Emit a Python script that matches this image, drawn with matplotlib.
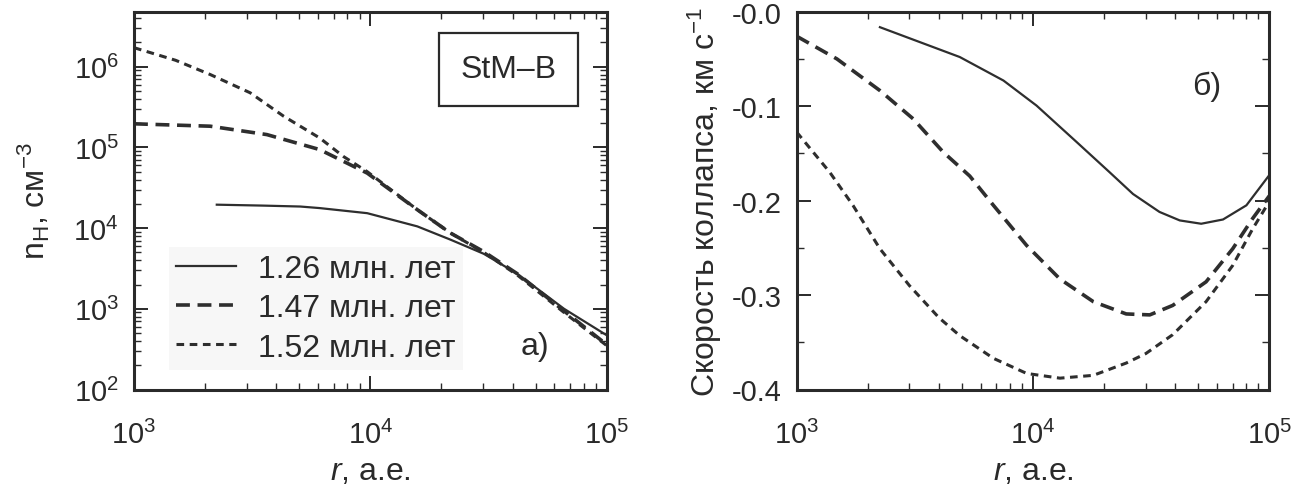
import matplotlib
matplotlib.use("Agg")
import matplotlib.pyplot as plt
from matplotlib.ticker import LogLocator, FuncFormatter, MultipleLocator, NullFormatter

plt.rcParams['font.family'] = ['Liberation Sans', 'DejaVu Sans']
plt.rcParams['mathtext.fontset'] = 'custom'
plt.rcParams['mathtext.rm'] = 'Liberation Sans'
plt.rcParams['mathtext.it'] = 'Liberation Sans:italic'
plt.rcParams['lines.scale_dashes'] = False

labels = ['1.26 млн. лет', '1.47 млн. лет', '1.52 млн. лет']

# Panel a) density n_H vs r
r_a1 = [2.24e3, 3.5e3, 5.05e3, 6.1e3, 9.7e3, 1.58e4, 2.18e4, 3.02e4, 4.2e4, 6.6e4, 1e5]
n_a1 = [1.95e4, 1.9e4, 1.85e4, 1.77e4, 1.53e4, 1.05e4, 7.2e3, 4.8e3, 2.7e3, 1.0e3, 4.7e2]
r_a2 = [1e3, 2.1e3, 3.65e3, 6.1e3, 9.7e3, 1.58e4, 2.18e4, 3.02e4, 4.2e4, 6.6e4, 1e5]
n_a2 = [1.96e5, 1.83e5, 1.44e5, 9.4e4, 4.8e4, 1.69e4, 8.7e3, 5.1e3, 2.7e3, 9.4e2, 3.6e2]
r_a3 = [1e3, 1.5e3, 2.1e3, 3.1e3, 4.3e3, 6.1e3, 7.7e3, 9.7e3, 1.58e4, 2.18e4, 3.02e4, 4.2e4, 6.6e4, 1e5]
n_a3 = [1.72e6, 1.2e6, 8.0e5, 4.75e5, 2.43e5, 1.31e5, 7.7e4, 5.0e4, 1.69e4, 8.7e3, 5.0e3, 2.6e3, 9.0e2, 3.5e2]

# Panel б) collapse velocity vs r
r_b1 = [2.25e3, 4.9e3, 7.5e3, 1.035e4, 1.53e4, 2.11e4, 2.65e4, 3.43e4, 4.18e4, 5.15e4, 6.37e4, 8.0e4, 1e5]
v_b1 = [-0.0164, -0.048, -0.0729, -0.0994, -0.138, -0.170, -0.193, -0.212, -0.221, -0.2245, -0.220, -0.205, -0.173]
r_b2 = [1e3, 1.48e3, 2.25e3, 3.11e3, 4.17e3, 5.4e3, 6.8e3, 9.4e3, 1.3e4, 1.8e4, 2.48e4, 3.12e4, 3.9e4, 5.4e4, 7.0e4, 8.5e4, 1e5]
v_b2 = [-0.026, -0.050, -0.0835, -0.1134, -0.1487, -0.174, -0.205, -0.2475, -0.283, -0.307, -0.320, -0.321, -0.311, -0.286, -0.251, -0.219, -0.195]
r_b3 = [1e3, 1.38e3, 1.73e3, 2.25e3, 3.0e3, 4.0e3, 4.9e3, 6.8e3, 9.4e3, 1.3e4, 1.8e4, 2.48e4, 3.0e4, 3.9e4, 5.4e4, 7.0e4, 8.5e4, 1e5]
v_b3 = [-0.1275, -0.170, -0.205, -0.251, -0.290, -0.324, -0.343, -0.367, -0.383, -0.388, -0.385, -0.372, -0.362, -0.342, -0.307, -0.2687, -0.230, -0.201]

col = '#2e2e2e'
tcol = '#2a2a2a'
styles = [dict(ls='-', lw=1.6), dict(ls=(0, (10, 5.5)), lw=2.6), dict(ls=(0, (5.5, 4)), lw=2.2)]

W, H = 1304, 489
fig = plt.figure(figsize=(W / 100, H / 100), dpi=100)
axA = fig.add_axes([134 / W, 1 - 390.5 / H, (606.7 - 134) / W, (390.5 - 12.7) / H])
axB = fig.add_axes([796.7 / W, 1 - 390.5 / H, (1269.3 - 796.7) / W, (390.5 - 12.7) / H])

fs = 23
tfs = 21

def style_axes(ax):
    for s in ax.spines.values():
        s.set_linewidth(2.2)
        s.set_color('#2a2a2a')
    ax.tick_params(which='both', direction='in', top=True, right=True, colors='#2a2a2a',
                   labelsize=tfs, labelcolor=tcol)
    ax.tick_params(which='major', length=10, width=1.4)
    ax.tick_params(which='minor', length=5, width=1.0)
    ax.tick_params(axis='x', which='major', pad=22)
    ax.tick_params(axis='y', which='major', pad=11)

# Panel a
for r, n, st, lab in zip([r_a1, r_a2, r_a3], [n_a1, n_a2, n_a3], styles, labels):
    axA.plot(r, n, color=col, label=lab, **st)
axA.set_xscale('log')
axA.set_yscale('log')
axA.set_xlim(1e3, 1e5)
axA.set_ylim(1e2, 4.8e6)
for axis in (axA.xaxis, axA.yaxis):
    axis.set_major_locator(LogLocator(base=10, numticks=10))
    axis.set_minor_locator(LogLocator(base=10, subs=range(2, 10), numticks=20))
    axis.set_minor_formatter(NullFormatter())
style_axes(axA)
axA.set_xlabel('$\\mathit{r}$, а.е.', fontsize=fs, color=tcol, labelpad=5)
axA.set_ylabel('n$_\\mathrm{H}$, см$^{-3}$', fontsize=fs, color=tcol, labelpad=15)
leg = axA.legend(loc='upper left', bbox_to_anchor=(0.074, 0.377), borderaxespad=0,
                 fontsize=fs, frameon=True, handlelength=1.88, handletextpad=0.69,
                 labelspacing=0.29, borderpad=0.22, fancybox=False)
leg.get_frame().set_facecolor('#f7f7f7')
leg.get_frame().set_edgecolor('none')
leg.get_frame().set_alpha(1.0)
for t in leg.get_texts():
    t.set_color(tcol)
axA.text(0.793, 0.848, 'StM–B', transform=axA.transAxes, fontsize=fs, ha='center', va='center',
         color=tcol,
         bbox=dict(boxstyle='square,pad=0.67', facecolor='white', edgecolor='#2a2a2a', linewidth=1.6))
axA.text(0.848, 0.116, 'а)', transform=axA.transAxes, fontsize=fs, ha='center', va='center', color=tcol)

# Panel b
for r, v, st in zip([r_b1, r_b2, r_b3], [v_b1, v_b2, v_b3], styles):
    axB.plot(r, v, color=col, **st)
axB.set_xscale('log')
axB.set_xlim(1e3, 1e5)
axB.set_ylim(-0.4, 0.0)
axB.xaxis.set_major_locator(LogLocator(base=10, numticks=10))
axB.xaxis.set_minor_locator(LogLocator(base=10, subs=range(2, 10), numticks=20))
axB.xaxis.set_minor_formatter(NullFormatter())
axB.yaxis.set_major_locator(MultipleLocator(0.1))
axB.yaxis.set_minor_locator(MultipleLocator(0.05))
axB.yaxis.set_major_formatter(FuncFormatter(lambda v, p: '-%.1f' % abs(v)))
style_axes(axB)
axB.set_xlabel('$\\mathit{r}$, а.е.', fontsize=fs, color=tcol, labelpad=5)
axB.set_ylabel('Скорость коллапса, км с$^{-1}$', fontsize=fs, color=tcol, labelpad=5)
axB.text(0.868, 0.804, 'б)', transform=axB.transAxes, fontsize=fs, ha='center', va='center', color=tcol)

fig.savefig('out.png', dpi=100)
